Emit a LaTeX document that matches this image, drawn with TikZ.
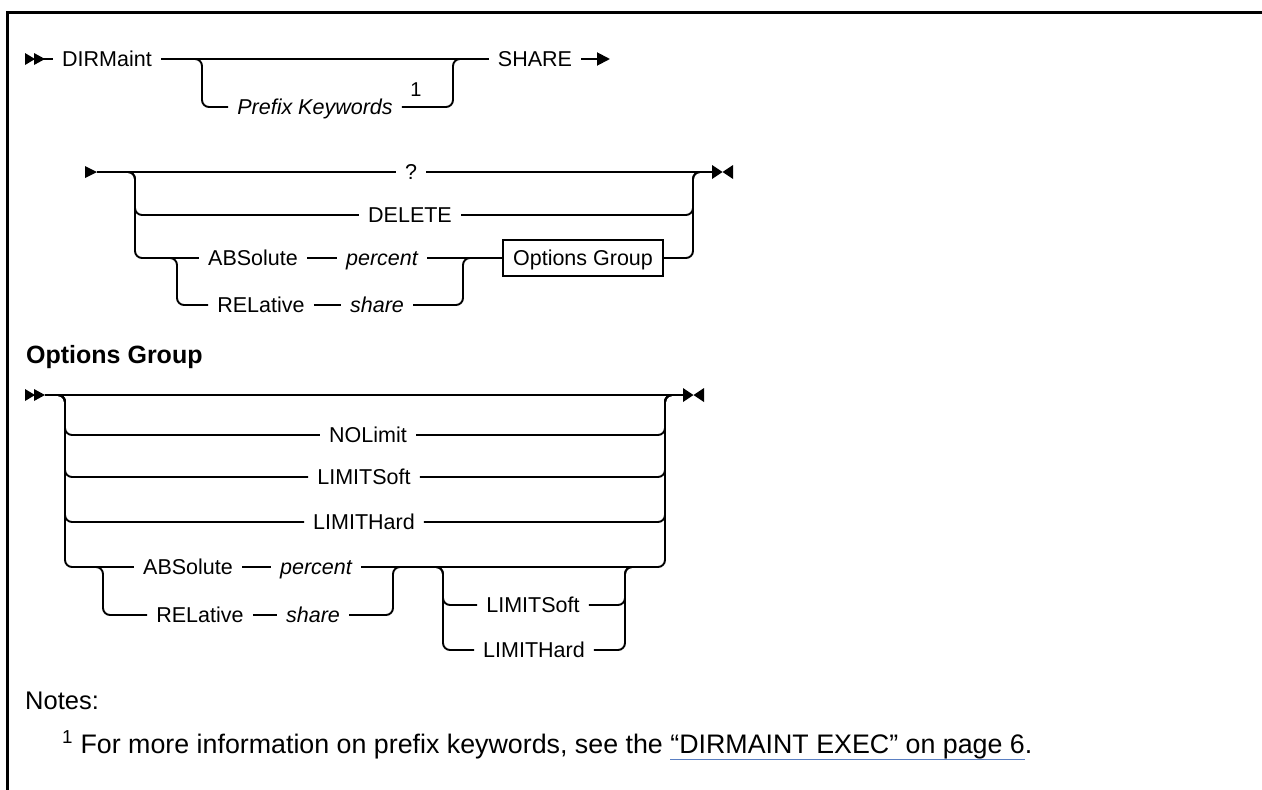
\documentclass[tikz,border=0pt]{standalone}
\usepackage{fontspec}
\setmainfont{Liberation Sans}
\usetikzlibrary{arrows.meta}
\definecolor{linkblue}{HTML}{5A7FC2}
\newcommand\fsz[1]{\fontsize{#1}{#1}\selectfont}
\newcommand\linkul[1]{\setbox0\hbox{#1}\rlap{\textcolor{linkblue}{\rule[-7pt]{\wd0}{1.4pt}}}\box0}
\tikzset{
  rr/.style={line width=1.9pt, rounded corners=7pt},
  kw/.style={font=\fsz{21.5}, inner xsep=9pt, inner ysep=2pt, text height=15pt, text depth=0pt},
  var/.style={kw, font=\fsz{21.5}\itshape},
  dblstart/.pic={\fill (0,-6)--(0,6)--(10,0)--cycle; \fill (9,-6)--(9,6)--(20,0)--cycle;},
  sglstart/.pic={\fill (0,-6)--(0,6)--(12,0)--cycle;},
  endmark/.pic={\fill (0,-7)--(0,7)--(10.5,0)--cycle; \fill (21,-7)--(21,7)--(10.5,0)--cycle;}
}
\begin{document}
\begin{tikzpicture}[x=1pt,y=-1pt]
\useasboundingbox (0,0) rectangle (1262,790);
% frame
\draw[line width=3pt] (7.5,792) -- (7.5,12) -- (1264,12);

% ---------- diagram 1 ----------
\pic at (25,59) {dblstart};
\coordinate (s1) at (43,59);
\node[kw] (dirm) at (107,59) {DIRMaint};
\node[var] (pk) at (315,107) {Prefix Keywords};
\node[font=\fsz{20}, inner sep=0pt] (fn1) at (416,90) {1};
\node[kw] (share) at (535,59) {SHARE};
\coordinate (e1) at (610,59);
\coordinate (j1a) at (202,59);
\coordinate (j1b) at (453,59);
\draw[rr] (s1) -- (dirm.west);
\draw[rr] (dirm.east) -- (share.west);
\draw[rr] (dirm.east) -- (j1a) -- (j1a |- pk) -- (pk.west);
\draw[rr] (pk.east) -- (j1b |- pk) -- (j1b) -- (share.west);
\draw[line width=1.9pt, -{Triangle[length=13pt,width=13pt]}] (share.east) -- (e1);

% ---------- diagram 2 ----------
\pic at (85,172) {sglstart};
\coordinate (s2) at (97,172);
\node[kw] (q) at (411,172) {?};
\node[kw] (del) at (410,215) {DELETE};
\node[kw] (abs) at (253,258) {ABSolute};
\node[var] (pct) at (382,258) {percent};
\node[kw] (rel) at (261,305) {RELative};
\node[var] (shr) at (377,305) {share};
\node[draw, line width=1.5pt, font=\fsz{21.5}, minimum width=160pt, minimum height=36pt,
      text height=15pt, text depth=0pt, inner sep=0pt] (og) at (583,258) {Options Group};
\coordinate (e2) at (712,172);
\pic at (712,172) {endmark};
\coordinate (j2l) at (135,172);
\coordinate (j2r) at (693,172);
\coordinate (j2a) at (177,258);
\coordinate (j2b) at (463,258);
\draw[rr] (s2) -- (q.west);
\draw[rr] (q.east) -- (e2);
\draw[rr] (s2) -- (j2l) -- (j2l |- del) -- (del.west);
\draw[rr] (s2) -- (j2l) -- (j2l |- abs) -- (abs.west);
\draw[rr] (del.east) -- (j2r |- del) -- (j2r) -- (e2);
\draw[rr] (abs.east) -- (pct.west);
\draw[rr] (abs.west) ++(-40,0) -- (j2a) -- (j2a |- rel) -- (rel.west);
\draw[rr] (rel.east) -- (shr.west);
\draw[rr] (shr.east) -- (j2b |- shr) -- (j2b) -- (og.west);
\draw[rr] (pct.east) -- (og.west);
\draw[rr] (og.east) -- (j2r |- og) -- (j2r) -- (e2);

% ---------- Options Group ----------
\node[font=\fsz{25}\bfseries, anchor=west, inner sep=0pt] (hdr) at (26,357) {Options Group};
\pic at (25,395) {dblstart};
\coordinate (s3) at (45,395);
\coordinate (e3) at (683,395);
\pic at (683,395) {endmark};
\coordinate (j3l) at (65,395);
\coordinate (j3r) at (665,395);
\node[kw] (nol) at (368,435) {NOLimit};
\node[kw] (ls) at (364,477) {LIMITSoft};
\node[kw] (lh) at (364,522) {LIMITHard};
\node[kw] (abs2) at (188,567) {ABSolute};
\node[var] (pct2) at (316,567) {percent};
\node[kw] (rel2) at (200,615) {RELative};
\node[var] (shr2) at (313,615) {share};
\node[kw] (ls2) at (533,605) {LIMITSoft};
\node[kw] (lh2) at (534,650) {LIMITHard};
\coordinate (j3a) at (103,567);
\coordinate (j3b) at (393,567);
\coordinate (j3c) at (443,567);
\coordinate (j3d) at (625,567);
\draw[rr] (s3) -- (e3);
\foreach \n in {nol,ls,lh,abs2}{
  \draw[rr] (s3) -- (j3l) -- (j3l |- \n) -- (\n.west);
}
\foreach \n in {nol,ls,lh}{
  \draw[rr] (\n.east) -- (j3r |- \n) -- (j3r) -- (e3);
}
\draw[rr] (abs2.east) -- (pct2.west);
\draw[rr] (abs2.west) ++(-40,0) -- (j3a) -- (j3a |- rel2) -- (rel2.west);
\draw[rr] (rel2.east) -- (shr2.west);
\draw[rr] (shr2.east) -- (j3b |- shr2) -- (j3b) -- ++(15,0);
\draw[rr] (pct2.east) -- (j3r |- pct2) -- (j3r) -- (e3);
\draw[rr] (j3c) ++(-15,0) -- (j3c) -- (j3c |- ls2) -- (ls2.west);
\draw[rr] (j3c) ++(-15,0) -- (j3c) -- (j3c |- lh2) -- (lh2.west);
\draw[rr] (ls2.east) -- (j3d |- ls2) -- (j3d) -- ++(15,0);
\draw[rr] (lh2.east) -- (j3d |- lh2) -- (j3d) -- ++(15,0);

% ---------- notes ----------
\node[font=\fsz{25.5}, anchor=base west, inner sep=0pt] (notes) at (25,709) {Notes:};
\node[font=\fsz{26.8}, anchor=base west, inner sep=0pt] (fnote) at (62,753)
  {\textsuperscript{1} For more information on prefix keywords, see the \linkul{“DIRMAINT EXEC” on page 6}.};
\end{tikzpicture}
\end{document}
